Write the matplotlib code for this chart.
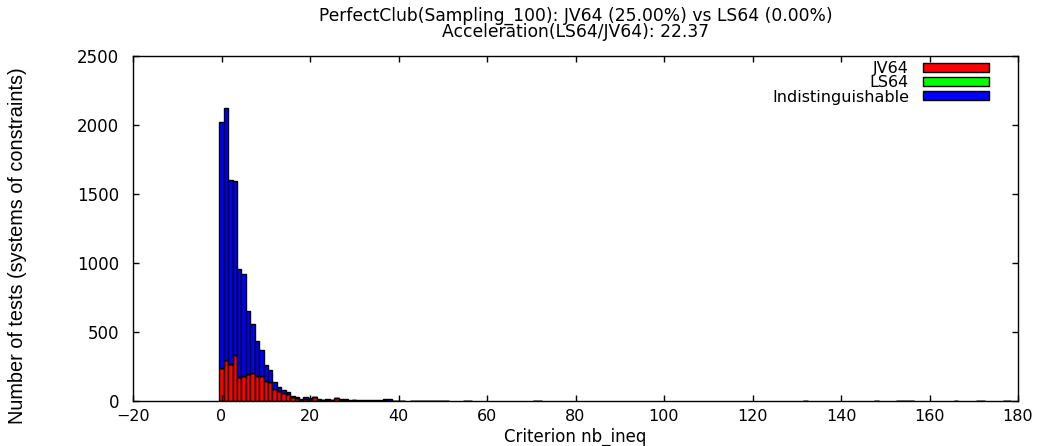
#!/usr/bin/python

import matplotlib
matplotlib.use("Agg")
import numpy as np
import matplotlib.pyplot as plt

plt.rcParams['font.family'] = ['DejaVu Sans']

# histogram values (criterion value -> number of tests)
crit = list(range(0, 41))
total = [2020, 2120, 1600, 1595, 955, 920, 655, 560, 432, 372,
         263, 222, 137, 100, 78, 64, 33, 30, 13, 26,
         22, 30, 12, 10, 12, 8, 22, 14, 12, 7,
         8, 6, 9, 5, 4, 5, 4, 14, 12, 3, 2]
jv64 = [238, 298, 268, 333, 173, 184, 198, 205, 184, 183,
        147, 139, 86, 72, 60, 52, 28, 24, 8, 18,
        14, 27, 6, 5, 6, 4, 20, 8, 6, 3,
        4, 2, 3, 2, 2, 2, 1, 10, 3, 1, 1]

# sparse tail, only a few tests each
tail_crit = [41, 43, 44, 45, 46, 47, 48, 49, 50, 51, 55, 56, 71, 72,
             132, 148, 153, 154, 155, 156, 166, 171, 172, 177, 178]
tail_total = [3, 2, 2, 2, 2, 2, 2, 2, 2, 2, 2, 2, 2, 2,
              2, 2, 2, 2, 2, 2, 2, 2, 2, 2, 2]

crit = np.array(crit + tail_crit)
total = np.array(total + tail_total)
jv64 = np.array(jv64 + [0] * len(tail_crit))
ls64 = np.zeros(len(crit))
indist = total - jv64 - ls64

title = ("PerfectClub(Sampling_100): JV64 (25.00%) vs LS64 (0.00%)\n"
         "Acceleration(LS64/JV64): 22.37")

W, H = 1042, 446
fig = plt.figure(figsize=(W / 100, H / 100), dpi=100)
ax = fig.add_axes([133 / W, 1 - 401 / H, 885 / W, 345 / H])

ax.bar(crit, jv64, width=1.0, color='#ff0000', edgecolor='black', linewidth=1.0, label='JV64')
ax.bar(crit, ls64, width=1.0, bottom=jv64, color='#00ff00', edgecolor='black', linewidth=1.0, label='LS64')
ax.bar(crit, indist, width=1.0, bottom=jv64 + ls64, color='#0000ff', edgecolor='black', linewidth=1.0,
       label='Indistinguishable')

ax.set_xlim(-20, 180)
ax.set_ylim(0, 2500)
ax.set_xticks(range(-20, 181, 20))
ax.set_yticks(range(0, 2501, 500))
ax.tick_params(direction='in', length=4.5, width=1.0, top=True, right=True, labelsize=12)
ax.tick_params(axis='x', pad=6, labelsize=11.5)
ax.tick_params(axis='y', pad=10)
for s in ax.spines.values():
    s.set_linewidth(1.0)

cx = (133 + 1018) / 2 / W
fig.text(cx, 1 - 24 / H, title, ha='center', va='center', fontsize=12.3, linespacing=0.85)
fig.text(cx, 1 - 437 / H, "Criterion nb_ineq", ha='center', va='center', fontsize=12)
fig.text(18 / W, 1 - 246 / H, "Number of tests (systems of constraints)", rotation=90,
         ha='center', va='center', fontsize=14.3, family=['Liberation Sans', 'DejaVu Sans'])

leg = ax.legend(loc='upper right', bbox_to_anchor=(0.967, 0.985), frameon=False, markerfirst=False,
                fontsize=11.5, handlelength=4.1, handleheight=0.5, labelspacing=-0.05,
                handletextpad=0.9, borderaxespad=0, borderpad=0)

fig.savefig("out.png", dpi=100)
